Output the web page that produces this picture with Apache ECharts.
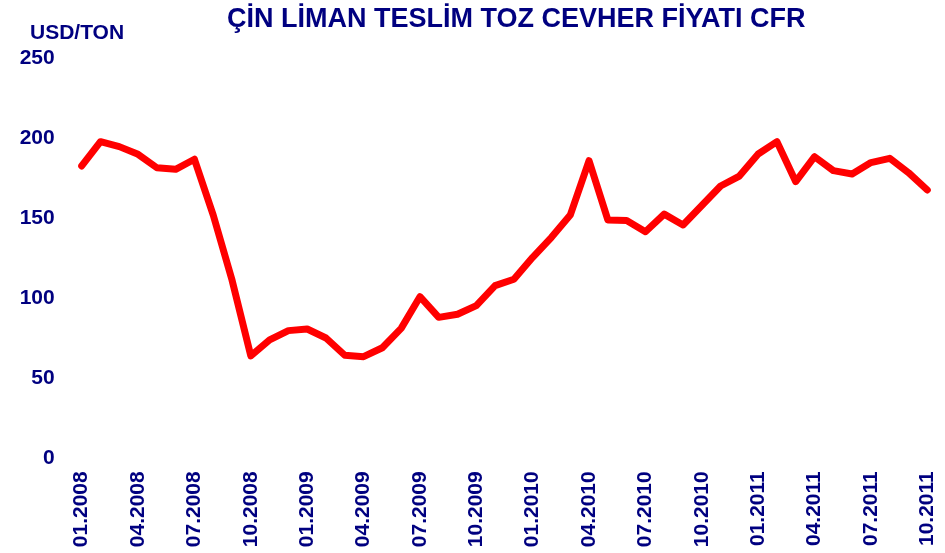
<!DOCTYPE html>
<html>
<head>
<meta charset="utf-8">
<script src="https://cdn.jsdelivr.net/npm/echarts@6/dist/echarts.min.js"></script>
<style>
html,body{margin:0;padding:0;background:#fff;}
#chart{width:945px;height:553px;}
</style>
</head>
<body>
<div id="chart"></div>
<script>
var titleText = 'ÇİN LİMAN TESLİM TOZ CEVHER FİYATI CFR';
var unitText = 'USD/TON';
var months = [
  '01.2008','02.2008','03.2008','04.2008','05.2008','06.2008','07.2008','08.2008','09.2008','10.2008','11.2008','12.2008',
  '01.2009','02.2009','03.2009','04.2009','05.2009','06.2009','07.2009','08.2009','09.2009','10.2009','11.2009','12.2009',
  '01.2010','02.2010','03.2010','04.2010','05.2010','06.2010','07.2010','08.2010','09.2010','10.2010','11.2010','12.2010',
  '01.2011','02.2011','03.2011','04.2011','05.2011','06.2011','07.2011','08.2011','09.2011','10.2011'
];
var prices = [
  182.7, 197.9, 194.8, 190.0, 181.6, 180.6, 186.9, 152.0, 111.4, 64.0, 74.0, 79.8,
  80.8, 75.2, 64.4, 63.5, 69.1, 81.2, 101.0, 88.1, 90.0, 95.4, 107.9, 111.9,
  125.6, 138.1, 152.0, 186.0, 149.0, 148.6, 141.6, 152.6, 145.8, 158.0, 170.2, 176.4,
  190.2, 197.9, 172.9, 188.5, 179.8, 177.7, 184.8, 187.5, 178.5, 167.7
];
var yMin = 0, yMax = 250, yStep = 50;

var navy = '#000080';
var fontFam = '"Liberation Sans", Arial, sans-serif';
var chart = echarts.init(document.getElementById('chart'), null, {renderer:'canvas'});
chart.setOption({
  animation: false,
  backgroundColor: '#ffffff',
  graphic: [
    {type:'text', left: 227, top: 6, style:{text: titleText, font: 'bold 27px ' + fontFam, fill: navy}},
    {type:'text', left: 30, top: 23, style:{text: unitText, font: 'bold 21px ' + fontFam, fill: navy}}
  ],
  grid: {left: 81.7, right: 17.7, top: 58.3, bottom: 94.7, containLabel: false},
  xAxis: {
    type: 'category',
    data: months,
    boundaryGap: false,
    axisLine: {show: false},
    axisTick: {show: false},
    axisLabel: {interval: 2, rotate: 90, margin: 13, color: navy, fontSize: 21, fontWeight: 'bold', fontFamily: fontFam},
    splitLine: {show: false}
  },
  yAxis: {
    type: 'value',
    min: yMin, max: yMax, interval: yStep,
    axisLine: {show: false},
    axisTick: {show: false},
    splitLine: {show: false},
    axisLabel: {margin: 27, color: navy, fontSize: 21, fontWeight: 'bold', fontFamily: fontFam}
  },
  series: [{
    type: 'line',
    data: prices,
    symbol: 'none',
    lineStyle: {color: '#ff0000', width: 7, join: 'round', cap: 'round'}
  }]
});
</script>
</body>
</html>
